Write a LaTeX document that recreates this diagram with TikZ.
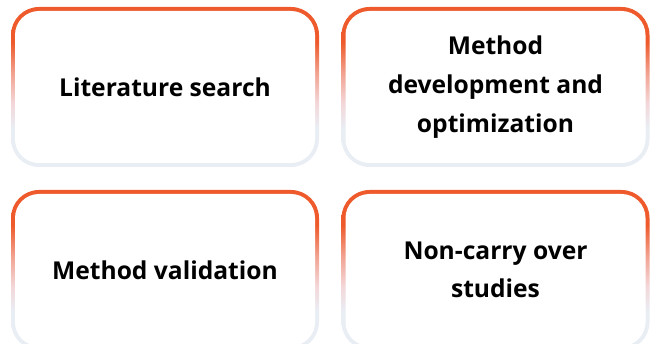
\documentclass[tikz,border=0pt]{standalone}
\usepackage{fontspec}
\setmainfont{Open Sans}
\usetikzlibrary{positioning}

\definecolor{rimorange}{HTML}{EE5A2B}
\definecolor{rimsalmon}{HTML}{F2A493}
\definecolor{rimpink}{HTML}{F3D6D8}
\definecolor{rimgrey}{HTML}{E9EEF5}
% frame fades from orange (top) to a pale blue grey (bottom)
\pgfdeclareverticalshading{rimfade}{100bp}{color(0bp)=(rimgrey); color(37bp)=(rimgrey); color(45bp)=(rimpink); color(54bp)=(rimsalmon); color(64bp)=(rimorange); color(100bp)=(rimorange)}

\begin{document}
\begin{tikzpicture}[font=\fontsize{14}{22}\selectfont\bfseries]
\tikzset{
  rim/.style={shade,shading=rimfade,rounded corners=0.56cm,minimum width=6.16cm,minimum height=3.20cm,inner sep=0pt},
  card/.style={fill=white,rounded corners=0.48cm,minimum width=6.00cm,minimum height=3.04cm,inner sep=0pt,align=center}
}
\useasboundingbox (0,0) rectangle (13.02,-6.88);
\fill[white] (0,0) rectangle (13.02,-6.88);
\clip (0,0) rectangle (13.02,-6.88);
\node[rim] (searchrim) at (3.30,-1.74) {};
\node[rim] (devrim) at (9.91,-1.74) {};
\node[rim] (validrim) at (3.30,-5.40) {};
\node[rim] (carryrim) at (9.91,-5.40) {};
\node[card] (search) at (searchrim.center) {Literature search};
\node[card] (dev) at (devrim.center) {Method\\development and\\optimization};
\node[card] (valid) at (validrim.center) {Method validation};
\node[card] (carry) at (carryrim.center) {Non-carry over\\studies};
\end{tikzpicture}
\end{document}
